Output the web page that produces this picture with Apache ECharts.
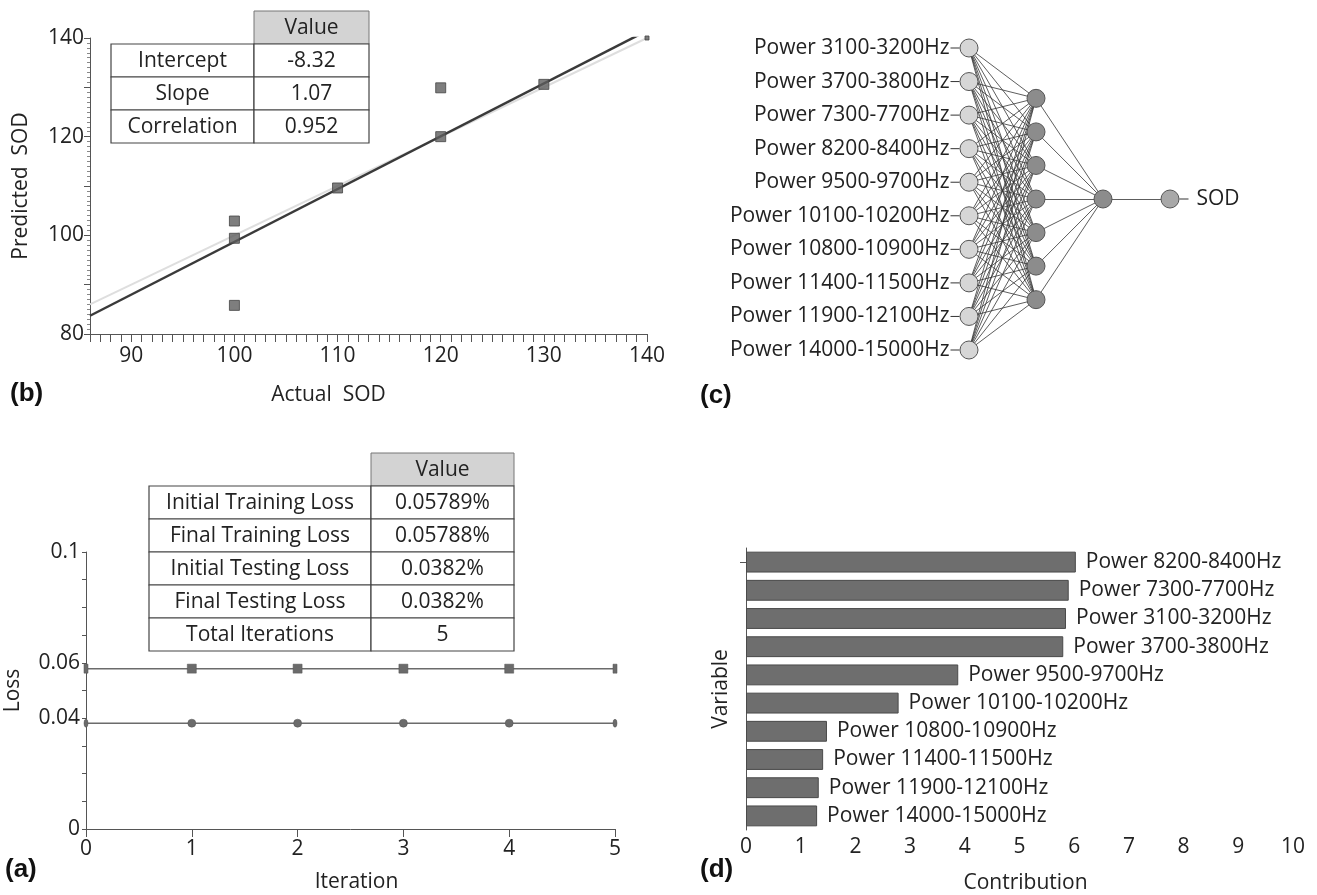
<!DOCTYPE html>
<html><head><meta charset="utf-8">
<script src="https://cdn.jsdelivr.net/npm/echarts@6/dist/echarts.min.js"></script>
<style>html,body{margin:0;padding:0;background:#fff}#c{width:1317px;height:895px}</style>
</head><body><div id="c"></div>
<script>
// ---------- Panel (b): actual vs predicted ----------
const sodActual = [100, 100, 100, 110, 120, 120, 130, 140];
const sodPredicted = [102.9, 99.4, 85.8, 109.6, 129.9, 120.0, 130.6, 140];
const fitNames = ['Intercept', 'Slope', 'Correlation'];
const fitValues = ['-8.32', '1.07', '0.952'];
const actualTickLabels = [90, 100, 110, 120, 130, 140];
const predictedTickLabels = [80, 100, 120, 140];

// ---------- Panel (c): network ----------
const inputVars = ['Power 3100-3200Hz', 'Power 3700-3800Hz', 'Power 7300-7700Hz', 'Power 8200-8400Hz',
  'Power 9500-9700Hz', 'Power 10100-10200Hz', 'Power 10800-10900Hz', 'Power 11400-11500Hz',
  'Power 11900-12100Hz', 'Power 14000-15000Hz'];
const hiddenLayerSizes = [7, 1];
const outputName = 'SOD';

// ---------- Panel (a): loss ----------
const iterations = [0, 1, 2, 3, 4, 5];
const trainingLoss = [0.05789, 0.05789, 0.05789, 0.05788, 0.05788, 0.05788];
const testingLoss = [0.0382, 0.0382, 0.0382, 0.0382, 0.0382, 0.0382];
const lossTickLabels = [0, 0.04, 0.06, 0.1];
const lossTableNames = ['Initial Training Loss', 'Final Training Loss', 'Initial Testing Loss', 'Final Testing Loss', 'Total Iterations'];
const lossTableValues = ['0.05789%', '0.05788%', '0.0382%', '0.0382%', '5'];

// ---------- Panel (d): contribution ----------
const contribVars = ['Power 8200-8400Hz', 'Power 7300-7700Hz', 'Power 3100-3200Hz', 'Power 3700-3800Hz',
  'Power 9500-9700Hz', 'Power 10100-10200Hz', 'Power 10800-10900Hz', 'Power 11400-11500Hz',
  'Power 11900-12100Hz', 'Power 14000-15000Hz'];
const contribValues = [6.03, 5.90, 5.85, 5.80, 3.88, 2.79, 1.48, 1.41, 1.33, 1.30];

const FONT = '"Open Sans", "Noto Sans", sans-serif';
const TXT = '#222';
const AX = '#555';
const FS_TXT = 21;   // table / node / bar labels
const FS_TICK = 21;
const FS_NAME = 21;

const chart = echarts.init(document.getElementById('c'), null, {renderer: 'canvas'});

// regression + identity lines for (b)
const bXMin = 86, bXMax = 140;
const intercept = parseFloat(fitValues[0]);
const slope = parseFloat(fitValues[1]);
const fitLine = [[bXMin, intercept + slope * bXMin], [bXMax, intercept + slope * bXMax]];
const identityLine = [[bXMin, bXMin], [bXMax, bXMax]];

// network nodes/links for (c)
const layers = [inputVars.length].concat(hiddenLayerSizes).concat([1]);
const maxLayer = Math.max.apply(null, layers);
const nodes = [];
const layerStart = [];
const nodeColors = ['#d6d6d6', '#8c8c8c', '#8c8c8c', '#a8a8a8'];
layers.forEach((n, li) => {
  layerStart.push(nodes.length);
  for (let k = 0; k < n; k++) {
    let name, label;
    if (li === 0) {
      name = inputVars[k];
      label = {show: true, position: 'left', distance: 0, formatter: '{t|' + inputVars[k] + '}{d|}'};
    } else if (li === layers.length - 1) {
      name = outputName;
      label = {show: true, position: 'right', distance: 0, formatter: '{d|}{s|' + outputName + '}'};
    } else {
      name = 'h' + li + '_' + k;
      label = {show: false};
    }
    nodes.push({name: name, value: [li, (maxLayer - 1 - (n - 1)) / 2 + k],
      itemStyle: {color: nodeColors[li]}, label: label});
  }
});
const links = [];
for (let li = 0; li < layers.length - 1; li++) {
  for (let a = 0; a < layers[li]; a++) {
    for (let b = 0; b < layers[li + 1]; b++) {
      links.push({source: layerStart[li] + a, target: layerStart[li + 1] + b});
    }
  }
}

// tables
function table(x0, x1, x2, y0, rh, names, values) {
  const els = [];
  const st = {stroke: '#444', lineWidth: 1.2};
  const font = FS_TXT + 'px ' + FONT;
  els.push({type: 'rect', shape: {x: x1, y: y0, width: x2 - x1, height: rh},
    style: {fill: '#d3d3d3', stroke: '#777', lineWidth: 1}, z: 100});
  els.push({type: 'text', x: (x1 + x2) / 2, y: y0 + rh / 2 + 1, z: 101,
    style: {text: 'Value', fill: TXT, font: font, align: 'center', verticalAlign: 'middle'}});
  names.forEach((nm, i) => {
    const y = y0 + rh * (i + 1);
    els.push({type: 'rect', shape: {x: x0, y: y, width: x1 - x0, height: rh}, style: Object.assign({fill: '#fff'}, st), z: 100});
    els.push({type: 'rect', shape: {x: x1, y: y, width: x2 - x1, height: rh}, style: Object.assign({fill: '#fff'}, st), z: 100});
    els.push({type: 'text', x: (x0 + x1) / 2, y: y + rh / 2 + 1, z: 101,
      style: {text: nm, fill: TXT, font: font, align: 'center', verticalAlign: 'middle'}});
    els.push({type: 'text', x: (x1 + x2) / 2, y: y + rh / 2 + 1, z: 101,
      style: {text: values[i], fill: TXT, font: font, align: 'center', verticalAlign: 'middle'}});
  });
  return els;
}
function panelLabel(t, x, y) {
  return {type: 'text', x: x, y: y, z: 101,
    style: {text: t, fill: '#111', font: 'bold 26px "Liberation Sans", Arial, sans-serif', align: 'left', verticalAlign: 'middle'}};
}

const baseAxisLabel = {color: TXT, fontSize: FS_TICK, fontFamily: FONT};
const nameStyle = {color: TXT, fontSize: FS_NAME, fontFamily: FONT};

const option = {
  animation: false,
  backgroundColor: '#fff',
  grid: [
    {left: 90, top: 38, width: 557, height: 296, outerBoundsMode: 'none', containLabel: false},   // (b)
    {left: 86, top: 552, width: 529, height: 277, outerBoundsMode: 'none', containLabel: false},   // (a)
    {left: 969, top: 48, width: 201, height: 302, outerBoundsMode: 'none', containLabel: false},  // (c)
    {left: 746, top: 548, width: 547, height: 282, outerBoundsMode: 'none', containLabel: false}  // (d)
  ],
  xAxis: [
    {gridIndex: 0, type: 'value', min: bXMin, max: bXMax, interval: 1,
      axisLine: {lineStyle: {color: AX}}, splitLine: {show: false},
      axisTick: {length: 8, lineStyle: {color: AX}},
      axisLabel: Object.assign({}, baseAxisLabel, {margin: 12, formatter: v => actualTickLabels.indexOf(v) >= 0 ? String(v) : ''}),
      name: 'Actual  SOD', nameLocation: 'middle', nameGap: 51,
      nameTextStyle: Object.assign({}, nameStyle, {padding: [0, 80, 0, 0]})},
    {gridIndex: 1, type: 'value', min: 0, max: 5, interval: 1,
      axisLine: {lineStyle: {color: AX}}, splitLine: {show: false},
      axisTick: {length: 8, lineStyle: {color: AX}},
      axisLabel: Object.assign({}, baseAxisLabel, {margin: 10}),
      name: 'Iteration', nameLocation: 'middle', nameGap: 43,
      nameTextStyle: Object.assign({}, nameStyle, {padding: [0, 0, 0, 12]})},
    {gridIndex: 2, type: 'value', min: 0, max: layers.length - 1, show: false},
    {gridIndex: 3, type: 'value', min: 0, max: 10, interval: 1,
      axisLine: {lineStyle: {color: AX}}, splitLine: {show: false},
      axisTick: {length: 7, lineStyle: {color: AX}},
      axisLabel: Object.assign({}, baseAxisLabel, {margin: 7}),
      name: 'Contribution', nameLocation: 'middle', nameGap: 43,
      nameTextStyle: Object.assign({}, nameStyle, {padding: [0, 0, 0, 12]})}
  ],
  yAxis: [
    {gridIndex: 0, type: 'value', min: 80, max: 140, interval: 10,
      axisLine: {show: true, lineStyle: {color: AX}}, splitLine: {show: false},
      axisTick: {show: true, length: 6, lineStyle: {color: AX}},
      minorTick: {show: true, splitNumber: 10, length: 3, lineStyle: {color: '#888'}},
      axisLabel: Object.assign({}, baseAxisLabel, {margin: 6, formatter: v => predictedTickLabels.indexOf(v) >= 0 ? String(v) : ''}),
      name: 'Predicted  SOD', nameLocation: 'middle', nameGap: 58, nameRotate: 90,
      nameTextStyle: nameStyle},
    {gridIndex: 1, type: 'value', min: 0, max: 0.1, interval: 0.01,
      axisLine: {show: true, lineStyle: {color: AX}}, splitLine: {show: false},
      axisTick: {show: true, length: 4, lineStyle: {color: AX}},
      axisLabel: Object.assign({}, baseAxisLabel, {margin: 6, formatter: v => {
        const m = lossTickLabels.find(t => Math.abs(t - v) < 1e-9);
        return m === undefined ? '' : String(m);
      }}),
      name: 'Loss', nameLocation: 'middle', nameGap: 62, nameRotate: 90,
      nameTextStyle: nameStyle},
    {gridIndex: 2, type: 'value', min: 0, max: maxLayer - 1, inverse: true, show: false},
    {gridIndex: 3, type: 'category', data: contribVars, inverse: true,
      axisLine: {show: true, lineStyle: {color: AX}},
      axisTick: {show: true, alignWithLabel: true, length: 6, interval: i => i === 0, lineStyle: {color: AX}},
      axisLabel: {show: false},
      name: 'Variable', nameLocation: 'middle', nameGap: 14, nameRotate: 90,
      nameTextStyle: nameStyle}
  ],
  series: [
    {type: 'line', xAxisIndex: 0, yAxisIndex: 0, data: identityLine, showSymbol: false,
      lineStyle: {color: '#dedede', width: 2}, silent: true, z: 2},
    {type: 'line', xAxisIndex: 0, yAxisIndex: 0, data: fitLine, showSymbol: false, clip: true,
      lineStyle: {color: '#3a3a3a', width: 2.5}, silent: true, z: 3},
    {type: 'scatter', xAxisIndex: 0, yAxisIndex: 0,
      data: sodActual.map((x, i) => [x, sodPredicted[i]]),
      symbol: 'rect', symbolSize: v => (v[0] >= bXMax ? 4 : 10),
      itemStyle: {color: '#5e5e5e', borderColor: '#444', borderWidth: 1}, z: 4},
    {type: 'line', xAxisIndex: 1, yAxisIndex: 1, data: iterations.map((x, i) => [x, trainingLoss[i]]),
      symbol: 'rect', symbolSize: (v, p) => (p.dataIndex === 0 || p.dataIndex === iterations.length - 1) ? [4, 9] : 9,
      showAllSymbol: true,
      lineStyle: {color: '#6b6b6b', width: 1.5}, itemStyle: {color: '#6b6b6b', borderColor: '#555', borderWidth: 0.5}},
    {type: 'line', xAxisIndex: 1, yAxisIndex: 1, data: iterations.map((x, i) => [x, testingLoss[i]]),
      symbol: 'circle', symbolSize: (v, p) => (p.dataIndex === 0 || p.dataIndex === iterations.length - 1) ? [4, 8] : 8,
      showAllSymbol: true,
      lineStyle: {color: '#6b6b6b', width: 1.5}, itemStyle: {color: '#6b6b6b', borderColor: '#555', borderWidth: 0.5}},
    {type: 'graph', coordinateSystem: 'cartesian2d', xAxisIndex: 2, yAxisIndex: 2,
      symbol: 'circle', symbolSize: 18, data: nodes, links: links, silent: true,
      lineStyle: {color: '#333', width: 0.8, opacity: 1, curveness: 0},
      itemStyle: {borderColor: '#555', borderWidth: 1},
      label: {rich: {
        t: {fontSize: FS_TXT, color: TXT, fontFamily: FONT, padding: [0, 1, 0, 0]},
        s: {fontSize: FS_TXT, color: TXT, fontFamily: FONT, padding: [0, 0, 0, 8]},
        d: {width: 9, height: 1, backgroundColor: '#333', verticalAlign: 'middle'}
      }},
      emphasis: {disabled: true}},
    {type: 'bar', xAxisIndex: 3, yAxisIndex: 3, data: contribValues, barCategoryGap: '26%',
      itemStyle: {color: '#6e6e6e', borderColor: '#4a4a4a', borderWidth: 1},
      label: {show: true, position: 'right', distance: 10, formatter: '{b}', color: TXT, fontSize: FS_TXT, fontFamily: FONT}}
  ],
  graphic: [].concat(
    table(111, 254, 369, 11, 33, fitNames, fitValues),
    table(149, 371, 514, 453, 33, lossTableNames, lossTableValues),
    [panelLabel('(b)', 10, 394), panelLabel('(c)', 700, 396), panelLabel('(a)', 5, 870), panelLabel('(d)', 700, 870)]
  )
};
chart.setOption(option);
</script>
</body></html>
